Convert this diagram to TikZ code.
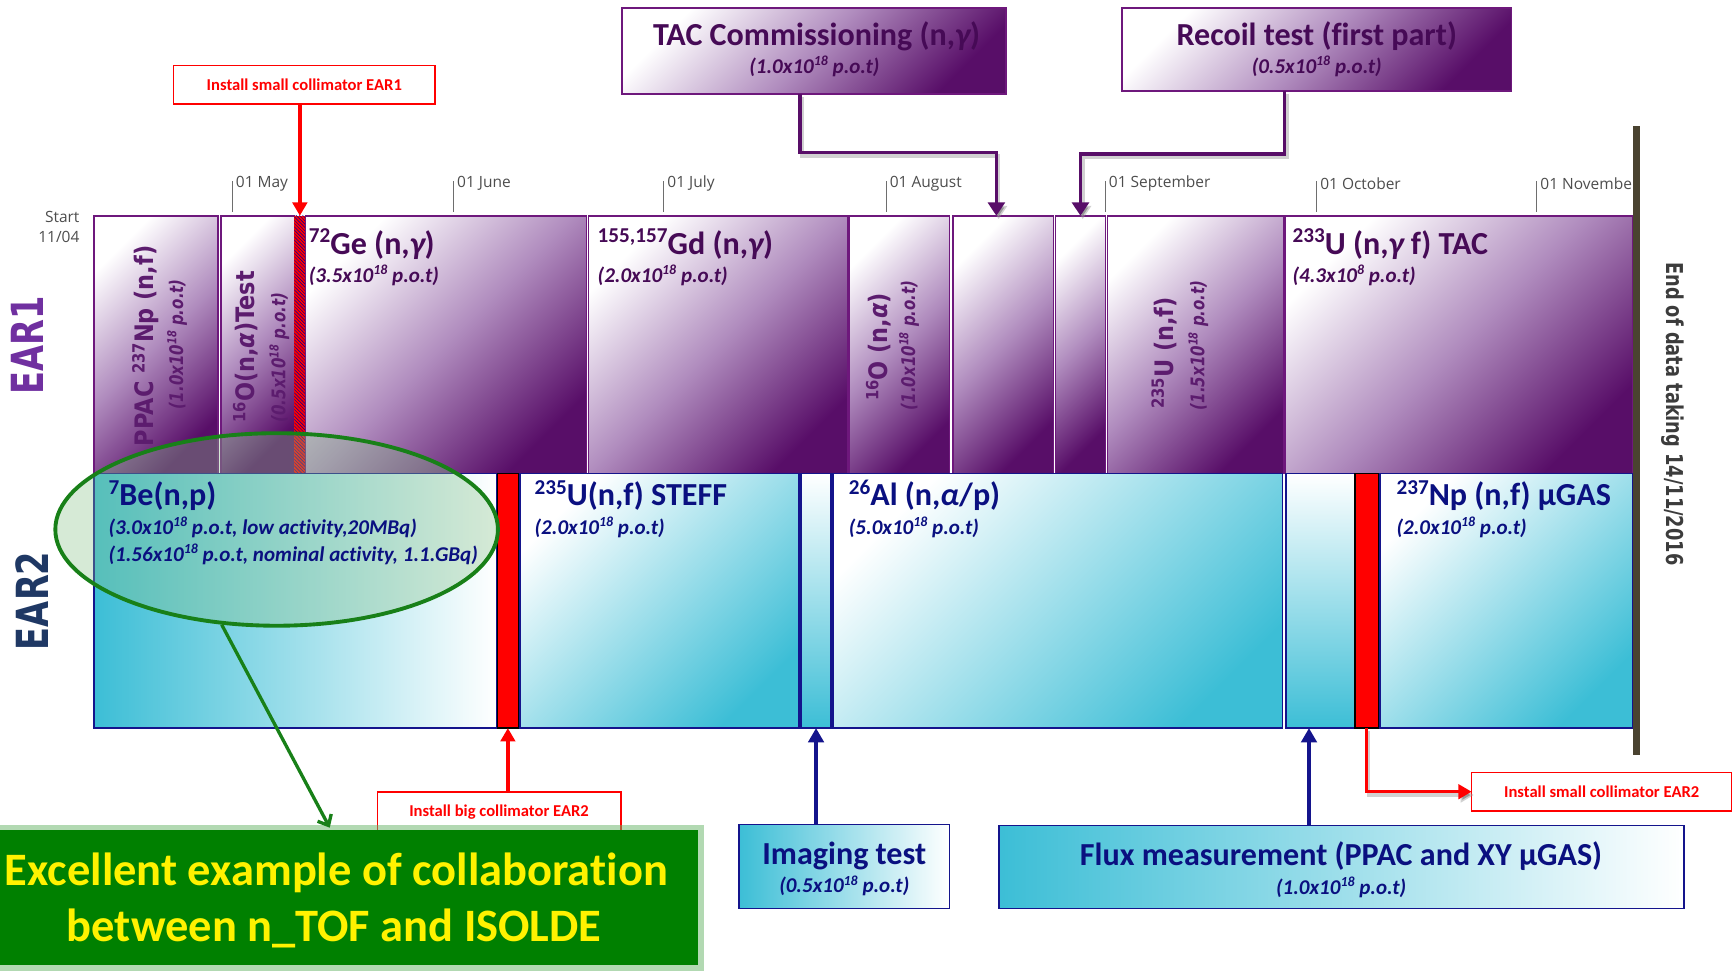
\documentclass[tikz,border=0pt]{standalone}
\usepackage{fontspec}
\setmainfont{Carlito}[Ligatures=NoCommon]
\newfontfamily\dvs{DejaVu Sans}
\newfontfamily\osn{Open Sans}
\usepackage{graphicx}
\usetikzlibrary{arrows.meta,calc,patterns,shapes.geometric}

\newcommand\fsz[1]{\fontsize{#1}{#1}\selectfont}
\newcommand\sps[1]{\raisebox{0.36em}{\scalebox{0.66}{#1}}}

\definecolor{pdark}{RGB}{88,14,104}
\definecolor{pmid}{RGB}{176,140,190}
\definecolor{pline}{RGB}{110,24,124}
\definecolor{ptext}{RGB}{70,10,86}
\definecolor{prot}{RGB}{92,28,110}
\definecolor{cyanc}{RGB}{60,190,214}
\definecolor{nline}{RGB}{20,20,140}
\definecolor{ntext}{RGB}{10,16,128}
\definecolor{ear1c}{RGB}{112,48,160}
\definecolor{ear2c}{RGB}{31,56,100}
\definecolor{endc}{RGB}{74,67,48}
\definecolor{endtxt}{RGB}{60,60,60}
\definecolor{ngreen}{RGB}{0,128,0}
\definecolor{elgreen}{RGB}{137,194,137}
\definecolor{elline}{RGB}{24,128,24}
\definecolor{tickc}{RGB}{110,110,110}

\tikzset{
  pbox/.style={draw=pline, line width=1.5pt, top color=white, bottom color=pdark, middle color=pmid, shading angle=45, inner sep=0pt, outer sep=0pt, anchor=north west},
  cbox/.style={draw=nline, line width=1.5pt, top color=white, bottom color=cyanc, shading angle=45, inner sep=0pt, outer sep=0pt, anchor=north west},
  cboxv/.style={draw=nline, line width=1.5pt, top color=white, bottom color=cyanc, inner sep=0pt, outer sep=0pt, anchor=north west},
  cboxh/.style={draw=nline, line width=1.5pt, left color=cyanc, right color=white, inner sep=0pt, outer sep=0pt, anchor=north west},
  redbar/.style={draw=black, line width=1.2pt, fill=red, inner sep=0pt, outer sep=0pt, anchor=north west},
  hatchbar/.style={preaction={fill=red}, pattern=north west lines, pattern color=blue!60!black, inner sep=0pt, outer sep=0pt, anchor=north west},
  insbox/.style={draw=red, line width=1.4pt, fill=white, inner sep=0pt, outer sep=0pt, anchor=north west, font=\bfseries\fsz{15}, text=red},
  ttlp/.style={anchor=base west, inner sep=0pt, font=\bfseries\fsz{29}},
  subp/.style={anchor=base west, inner sep=0pt, font=\bfseries\itshape\fsz{19}},
  rotA/.style={rotate=90, inner sep=0pt, text=prot, font=\dvs\bfseries\fsz{23}},
  rotB/.style={rotate=90, inner sep=0pt, text=prot, font=\dvs\bfseries\itshape\fsz{17}},
  tickln/.style={draw=tickc, line width=0.9pt},
  tlabel/.style={anchor=west, inner sep=0pt, font=\osn\fsz{14}, text=tickc!70!black},
  pconn/.style={draw=pdark, line width=3.2pt, -{Triangle[width=15pt,length=12pt]},
     preaction={draw=black!40, draw opacity=0.45, line width=3.2pt, transform canvas={shift={(2pt,-3pt)}}}},
  rconn/.style={draw=red, line width=3pt, -{Triangle[width=13pt,length=12pt]}},
  nconn/.style={draw=nline, line width=3.2pt, -{Triangle[width=14pt,length=13pt]}},
}

\begin{document}
\begin{tikzpicture}[x=1pt,y=-1pt]
\useasboundingbox (0,0) rectangle (1568,878);
\clip (0,0) rectangle (1568,878);

% ---------- top boxes ----------
\node[pbox, minimum width=347, minimum height=78] (tac) at (562,7) {};
\node[pbox, minimum width=352, minimum height=75] (rec) at (1014,7) {};
\node[insbox, minimum width=236, minimum height=35] (ins1) at (157,59) {Install small collimator EAR1};

% ---------- timeline ----------
\draw[tickln] (210,164) -- (210,192);
\draw[tickln] (410,164) -- (410,192);
\draw[tickln] (600,164) -- (600,192);
\draw[tickln] (801,164) -- (801,192);
\draw[tickln] (999,164) -- (999,192);
\draw[tickln] (1190,164) -- (1190,192);
\draw[tickln] (1389,164) -- (1389,192);
\node[tlabel] (tmay) at (213,166) {01 May};
\node[tlabel] (tjun) at (413,166) {01 June};
\node[tlabel] (tjul) at (603,166) {01 July};
\node[tlabel] (taug) at (804,166) {01 August};
\node[tlabel] (tsep) at (1002,166) {01 September};
\node[tlabel] (toct) at (1193,166) {01 October};
\begin{scope}
\clip (1380,150) rectangle (1476,185);
\node[tlabel] (tnov) at (1392,166) {01 November};
\end{scope}
\node[anchor=east, align=right, inner sep=0pt, font=\osn\fontsize{14}{18}\selectfont, text=tickc!70!black] (start) at (72,205) {Start\\11/04};

% ---------- EAR1 row ----------
\node[pbox, minimum width=112, minimum height=233] (a1) at (85,195) {};
\node[pbox, minimum width=66, minimum height=233] (a2) at (200,195) {};
\node[hatchbar, minimum width=10, minimum height=233] (a2s) at (266,195) {};
\node[pbox, minimum width=254, minimum height=233] (a3) at (276,195) {};
\node[pbox, minimum width=234, minimum height=233] (a4) at (532,195) {};
\node[pbox, minimum width=91, minimum height=233] (a5) at (767,195) {};
\node[pbox, minimum width=91, minimum height=233] (a6) at (861,195) {};
\node[pbox, minimum width=45, minimum height=233] (a7) at (954,195) {};
\node[pbox, minimum width=159, minimum height=233] (a8) at (1001,195) {};
\node[pbox, minimum width=315, minimum height=233] (a9) at (1161,195) {};

% ---------- EAR2 row ----------
\node[cboxh, minimum width=364, minimum height=230] (b1) at (85,428) {};
\node[redbar, minimum width=19, minimum height=230] (r1) at (449.5,428) {};
\node[cbox, minimum width=252, minimum height=230] (b2) at (470,428) {};
\node[cboxv, minimum width=27, minimum height=230] (b3) at (724,428) {};
\node[cbox, minimum width=406, minimum height=230] (b4) at (753,428) {};
\node[cboxv, minimum width=62, minimum height=230] (b5) at (1162,428) {};
\node[redbar, minimum width=21, minimum height=230] (r2) at (1224.5,428) {};
\node[cbox, minimum width=229, minimum height=230] (b6) at (1247,428) {};

% end bar
\node[fill=endc, inner sep=0pt, minimum width=6, minimum height=568, anchor=north] (endbar) at (1479,114) {};

% ---------- connectors from top ----------
\draw[pconn] ($(tac.south west)+(161,0)$) -- ++(0,53) -| ($(a6.north)+(-6,0)$);
\draw[pconn] ($(rec.south west)+(147,0)$) -- ++(0,57) -| (a7.north);
\draw[rconn] (ins1.south -| a2s.north) -- (a2s.north);

% ---------- ellipse ----------
\node[ellipse, draw=elline, line width=3.5pt, fill=elgreen, fill opacity=0.35, minimum width=400, minimum height=174, inner sep=0pt] (ell) at (250,478.5) {};

% ---------- texts ----------
\node[anchor=base, inner sep=0pt, text=ptext, font=\bfseries\fsz{29}] (tact) at (738,41) {TAC Commissioning (n,{\itshape γ})};
\node[anchor=base, inner sep=0pt, text=ptext, font=\bfseries\itshape\fsz{19}] (tacs) at (736,66) {(1.0x10\sps{18} p.o.t)};
\node[anchor=base, inner sep=0pt, text=ptext, font=\bfseries\fsz{29}] (rect) at (1190,41) {Recoil test (first part)};
\node[anchor=base, inner sep=0pt, text=ptext, font=\bfseries\itshape\fsz{19}] (recs) at (1190,66) {(0.5x10\sps{18} p.o.t)};

\node[rotate=90, inner sep=0pt, text=ear1c, font=\dvs\bfseries\fsz{40}] (ear1) at (25,312) {\scalebox{0.76}[1]{EAR1}};
\node[rotate=90, inner sep=0pt, text=ear2c, font=\dvs\bfseries\fsz{40}] (ear2) at (29,543) {\scalebox{0.76}[1]{EAR2}};
\node[rotate=-90, inner sep=0pt, text=endtxt, font=\dvs\bfseries\fsz{21}] (endt) at (1511.5,374) {\scalebox{0.765}[1]{End of data taking 14/11/2016}};

\node[rotA] (a1t) at (131.5,312.5) {\scalebox{0.88}[1]{PPAC \sps{237}Np (n,f)}};
\node[rotB] (a1s) at (160,311) {\scalebox{0.8}[1]{(1.0x10\sps{18} p.o.t)}};
\node[rotA, anchor=west] (a2t) at (222,382) {\scalebox{0.88}[1]{\sps{16}O(n,{\itshape α})Test}};
\node[rotB, anchor=west] (a2s2) at (252.5,382) {\scalebox{0.8}[1]{(0.5x10\sps{18} p.o.t)}};
\node[rotA] (a5t) at (794,313.5) {\scalebox{0.88}[1]{\sps{16}O (n,{\itshape α})}};
\node[rotB] (a5s) at (821.5,312) {\scalebox{0.8}[1]{(1.0x10\sps{18} p.o.t)}};
\node[rotA] (a8t) at (1052,319) {\scalebox{0.88}[1]{\sps{235}U (n,f)}};
\node[rotB] (a8s) at (1083,312) {\scalebox{0.8}[1]{(1.5x10\sps{18} p.o.t)}};

\node[ttlp, text=ptext] (a3t) at (279,230) {\sps{72}Ge (n,{\itshape γ})};
\node[subp, text=ptext] (a3s) at (279,255) {(3.5x10\sps{18} p.o.t)};
\node[ttlp, text=ptext] (a4t) at (540,230) {\sps{155,157}Gd (n,{\itshape γ})};
\node[subp, text=ptext] (a4s) at (540,255) {(2.0x10\sps{18} p.o.t)};
\node[ttlp, text=ptext] (a9t) at (1168,230) {\sps{233}U (n,{\itshape γ} f) TAC};
\node[subp, text=ptext] (a9s) at (1168,255) {(4.3x10\sps{8} p.o.t)};

\node[ttlp, text=ntext] (b1t) at (98,457) {\sps{7}Be(n,p)};
\node[subp, text=ntext] (b1s) at (98,483) {(3.0x10\sps{18} p.o.t, low activity,20MBq)};
\node[subp, text=ntext] (b1u) at (98,507) {(1.56x10\sps{18} p.o.t, nominal activity, 1.1.GBq)};
\node[ttlp, text=ntext] (b2t) at (483,457) {\sps{235}U(n,f) STEFF};
\node[subp, text=ntext] (b2s) at (483,483) {(2.0x10\sps{18} p.o.t)};
\node[ttlp, text=ntext] (b4t) at (767,457) {\sps{26}Al (n,{\itshape α}/p)};
\node[subp, text=ntext] (b4s) at (767,483) {(5.0x10\sps{18} p.o.t)};
\node[ttlp, text=ntext] (b6t) at (1262,457) {\sps{237}Np (n,f) µGAS};
\node[subp, text=ntext] (b6s) at (1262,483) {(2.0x10\sps{18} p.o.t)};

% ---------- bottom boxes ----------
\node[insbox, minimum width=220, minimum height=36] (ins2) at (341,716) {Install big collimator EAR2};
\node[insbox, minimum width=235, minimum height=35] (ins3) at (1330,698) {Install small collimator EAR2};
\node[cboxh, minimum width=190, minimum height=76] (img) at (668,745) {};
\node[anchor=base, inner sep=0pt, text=ntext, font=\bfseries\fsz{29}] (imgt) at (763,781) {Imaging test};
\node[anchor=base, inner sep=0pt, text=ntext, font=\bfseries\itshape\fsz{19}] (imgs) at (763,807) {(0.5x10\sps{18} p.o.t)};
\node[cboxh, minimum width=619, minimum height=75] (flux) at (903,746) {};
\node[anchor=base, inner sep=0pt, text=ntext, font=\bfseries\fsz{29}] (fluxt) at (1212,782) {Flux measurement (PPAC and XY µGAS)};
\node[anchor=base, inner sep=0pt, text=ntext, font=\bfseries\itshape\fsz{19}] (fluxs) at (1212,808) {(1.0x10\sps{18} p.o.t)};

\draw[rconn] (ins2.north -| r1.south) -- (r1.south);
\draw[rconn, preaction={draw=black!40, draw opacity=0.45, line width=3pt, transform canvas={shift={(2pt,-3pt)}}}] (r2.south) |- (ins3.west);
\draw[nconn] (img.north -| b3.south) -- (b3.south);
\coordinate (b5a) at ($(b5.south)+(-10,0)$);
\draw[nconn] (flux.north -| b5a) -- (b5a);

% ---------- green box ----------
\node[fill=ngreen, inner sep=0pt, anchor=north west, minimum width=660, minimum height=122,
      preaction={draw=ngreen!60, draw opacity=0.5, line width=10pt}] (grn) at (-29,750) {};
\node[anchor=base, inner sep=0pt, text=yellow, font=\bfseries\fsz{42}] (grn1) at (304,800) {Excellent example of collaboration};
\node[anchor=base, inner sep=0pt, text=yellow, font=\bfseries\fsz{42}] (grn2) at (302,851) {between n\_TOF and ISOLDE};
\draw[elline, line width=3pt, -{Straight Barb[width=14pt,length=8pt]}] (ell.240) -- ($(grn.north west)+(327,-2)$);
\end{tikzpicture}
\end{document}
